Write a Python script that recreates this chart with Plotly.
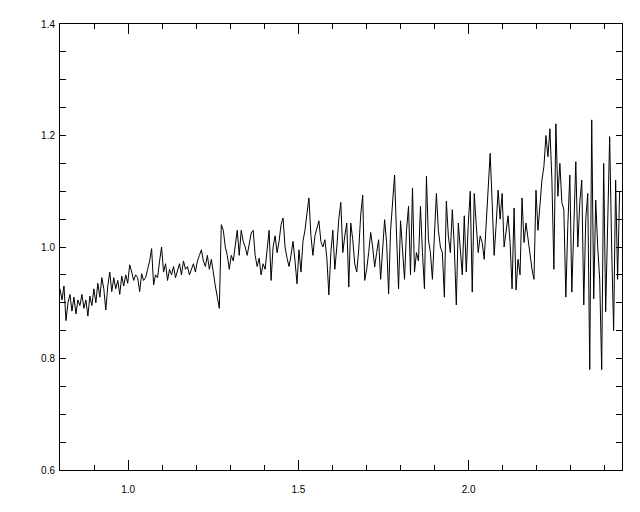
import numpy as np
import plotly.graph_objects as go

flux = [
    0.925, 0.905, 0.930, 0.868, 0.900, 0.915, 0.885, 0.910, 0.880, 0.905,
    0.895, 0.915, 0.890, 0.905, 0.876, 0.912, 0.895, 0.925, 0.900, 0.935,
    0.910, 0.945, 0.925, 0.887, 0.930, 0.955, 0.920, 0.945, 0.925, 0.940,
    0.915, 0.948, 0.930, 0.950, 0.935, 0.968, 0.955, 0.940, 0.950, 0.945,
    0.920, 0.952, 0.940, 0.945, 0.960, 0.975, 0.997, 0.932, 0.950, 0.945,
    0.975, 1.000, 0.955, 0.970, 0.940, 0.960, 0.950, 0.965, 0.945, 0.960,
    0.970, 0.950, 0.975, 0.960, 0.965, 0.950, 0.960, 0.970, 0.955, 0.975,
    0.985, 0.995, 0.975, 0.965, 0.985, 0.960, 0.978, 0.950, 0.930, 0.910,
    0.890, 1.040, 1.030, 1.000, 0.985, 0.960, 0.985, 0.975, 1.000, 1.030,
    0.985, 1.030, 1.010, 1.000, 0.985, 1.005, 1.025, 1.030, 0.985, 0.965,
    0.980, 0.950, 0.970, 0.960, 1.000, 1.030, 0.940, 1.000, 1.020, 0.990,
    1.010, 1.040, 1.052, 1.000, 0.980, 0.965, 0.985, 1.010, 0.975, 0.934,
    0.995, 0.955, 1.010, 1.030, 1.060, 1.088, 1.020, 0.985, 1.020, 1.035,
    1.047, 1.010, 1.000, 1.013, 0.980, 0.914, 0.990, 1.030, 0.960, 1.000,
    1.050, 1.080, 0.990, 1.020, 1.043, 0.928, 1.043, 1.013, 0.970, 0.955,
    0.995, 1.058, 1.093, 0.940, 0.960, 0.990, 1.026, 1.000, 0.964, 0.990,
    1.013, 0.942, 0.990, 1.049, 1.008, 0.916, 1.030, 1.080, 1.129, 1.020,
    0.925, 1.047, 1.000, 0.942, 1.030, 1.073, 0.950, 1.106, 0.955, 0.990,
    0.975, 1.073, 0.990, 0.925, 1.127, 1.013, 0.990, 0.942, 1.020, 1.096,
    1.030, 1.000, 0.990, 0.910, 1.082, 1.020, 0.990, 1.067, 1.000, 0.896,
    1.043, 1.000, 0.950, 1.056, 0.955, 1.040, 1.100, 0.919, 1.096, 1.040,
    0.990, 1.020, 1.008, 0.978, 1.049, 1.120, 1.168, 1.080, 0.985, 1.040,
    1.102, 1.050, 1.096, 1.000, 1.030, 1.056, 1.008, 0.925, 1.070, 0.923,
    0.978, 0.950, 1.088, 1.008, 1.043, 1.013, 0.990, 0.960, 0.942, 1.102,
    1.030, 1.084, 1.120, 1.145, 1.200, 1.162, 1.212, 1.120, 0.960, 1.221,
    1.091, 1.150, 1.080, 1.067, 0.910, 1.040, 1.129, 0.919, 1.060, 1.153,
    1.000, 1.080, 1.120, 0.896, 1.050, 1.096, 0.780, 1.228, 0.907, 1.084,
    1.000, 0.942, 0.780, 1.150, 0.884, 1.050, 1.198, 1.000, 0.850, 1.120,
    0.942, 1.100,
]
wave_start, wave_end = 0.80, 2.443
wavelength = np.linspace(wave_start, wave_end, len(flux))

x_tick_vals = [1.0, 1.5, 2.0]
x_tick_text = ["1.0", "1.5", "2.0"]
y_tick_vals = [0.6, 0.8, 1.0, 1.2, 1.4]
y_tick_text = ["0.6", "0.8", "1.0", "1.2", "1.4"]

fig = go.Figure()
fig.add_trace(go.Scatter(
    x=wavelength, y=flux, mode="lines",
    line=dict(color="black", width=1),
    showlegend=False, hoverinfo="skip",
))

font = dict(family="Liberation Sans, Arial, sans-serif", size=10, color="black")

fig.update_layout(
    width=632, height=504,
    margin=dict(l=52, r=18, t=10, b=42, pad=0),
    paper_bgcolor="white", plot_bgcolor="white",
    font=font,
    xaxis=dict(
        range=[0.8, 2.45], showgrid=False, zeroline=False,
        showline=True, linecolor="black", linewidth=1, mirror="allticks",
        ticks="inside", ticklen=10, tickwidth=1, tickcolor="black",
        tickvals=x_tick_vals, ticktext=x_tick_text,
        minor=dict(ticks="inside", ticklen=5, tickwidth=1, tickcolor="black", dtick=0.1, tick0=0.0, showgrid=False),
        ticklabelstandoff=10,
    ),
    yaxis=dict(
        range=[0.6, 1.4], showgrid=False, zeroline=False,
        showline=True, linecolor="black", linewidth=1, mirror="allticks",
        ticks="inside", ticklen=6, tickwidth=1, tickcolor="black",
        tickvals=y_tick_vals, ticktext=y_tick_text,
        minor=dict(ticks="inside", ticklen=6, tickwidth=1, tickcolor="black", dtick=0.05, tick0=0.0, showgrid=False),
        ticklabelstandoff=2,
    ),
)

fig.write_html("out.html")
